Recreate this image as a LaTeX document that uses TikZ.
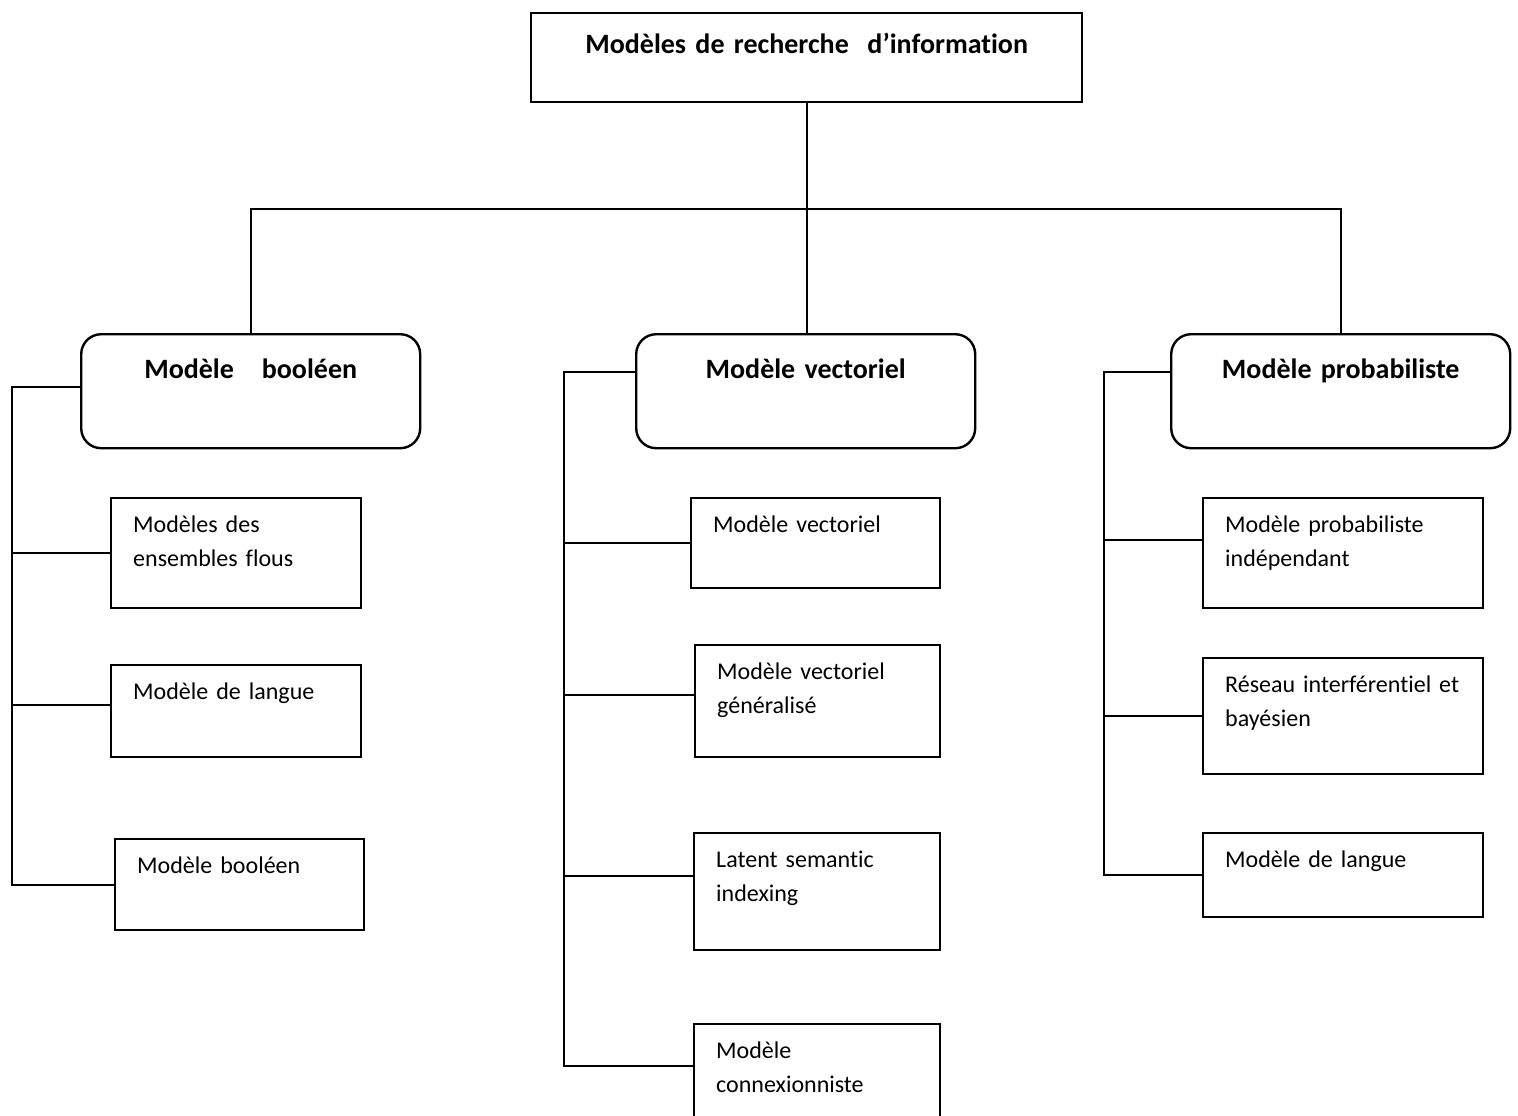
\documentclass[tikz,border=0pt]{standalone}
\usepackage{fontspec}
\setmainfont{Carlito}[Ligatures=NoCommon]

\tikzset{
  box/.style={draw, line width=1.2pt},
  head/.style={box, anchor=north west, align=center, inner sep=0pt, font=\fontsize{14}{17}\selectfont\bfseries},
  mid/.style={head, rounded corners=10pt, text width=169.5pt, text height=22pt, text depth=35pt},
  leaf/.style 2 args={box, anchor=north west, align=left, inner xsep=11pt, inner ysep=0pt,
    text height=17pt, text width=#1, text depth=#2, font=\fontsize{12}{17}\selectfont},
  link/.style={line width=1.2pt},
}

\begin{document}
\begin{tikzpicture}[x=0.5pt, y=-0.5pt]
  \useasboundingbox (0,0) rectangle (1518,1115);

  % root
  \node[head, text width=275.5pt, text height=20pt, text depth=24.5pt] (title) at (530,12) {Modèles de recherche\ \ d’information};

  % three families
  \node[mid] (bool) at (80,333) {Modèle\ \ \ booléen};
  \node[mid] (vec) at (635,333) {Modèle vectoriel};
  \node[mid] (prob) at (1170,333) {Modèle probabiliste};

  % booléen
  \node[leaf={103pt}{38pt}] (bl1) at (110,497) {Modèles des\\ensembles flous};
  \node[leaf={103pt}{29pt}] (bl2) at (110,664) {Modèle de langue};
  \node[leaf={102.5pt}{28.5pt}] (bl3) at (114,838) {Modèle booléen};

  % vectoriel
  \node[leaf={102.5pt}{28pt}] (vl1) at (690,497) {Modèle vectoriel};
  \node[leaf={100.5pt}{39pt}] (vl2) at (694,644) {Modèle vectoriel\\généralisé};
  \node[leaf={101pt}{41.5pt}] (vl3) at (693,832) {Latent semantic\\indexing};
  \node[leaf={101pt}{36.5pt}] (vl4) at (693,1023) {Modèle\\connexionniste};

  % probabiliste
  \node[leaf={118pt}{38pt}] (pl1) at (1202,497) {Modèle probabiliste\\indépendant};
  \node[leaf={118pt}{41pt}] (pl2) at (1202,657) {Réseau interférentiel et\\bayésien};
  \node[leaf={118pt}{25pt}] (pl3) at (1202,832) {Modèle de langue};

  \coordinate (bus) at (806,209);
  \coordinate (bcol) at (12,0);
  \coordinate (vcol) at (564,0);
  \coordinate (pcol) at (1104,0);

  \draw[link] (title.south) -- (title.south |- vec.north);
  \draw[link] (bool.north) |- (bus) -| (prob.north);

  % where the side lines meet the boxes
  \foreach \n/\s in {bool/2, vec/9.5, prob/9.5, bl1/0, bl2/3, bl3/0, vl1/0, vl2/3, vl3/8, vl4/6, pl1/6.5, pl2/0, pl3/0}
    \coordinate (j\n) at ([yshift=\s pt]\n.west);

  \draw[link] (jbool) -| (bcol |- jbl3) -- (jbl3);
  \draw[link] (jvec) -| (vcol |- jvl4) -- (jvl4);
  \draw[link] (jprob) -| (pcol |- jpl3) -- (jpl3);
  \foreach \n/\c in {bl1/bcol, bl2/bcol, vl1/vcol, vl2/vcol, vl3/vcol, pl1/pcol, pl2/pcol}
    \draw[link] (\c |- j\n) -- (j\n);
\end{tikzpicture}
\end{document}
